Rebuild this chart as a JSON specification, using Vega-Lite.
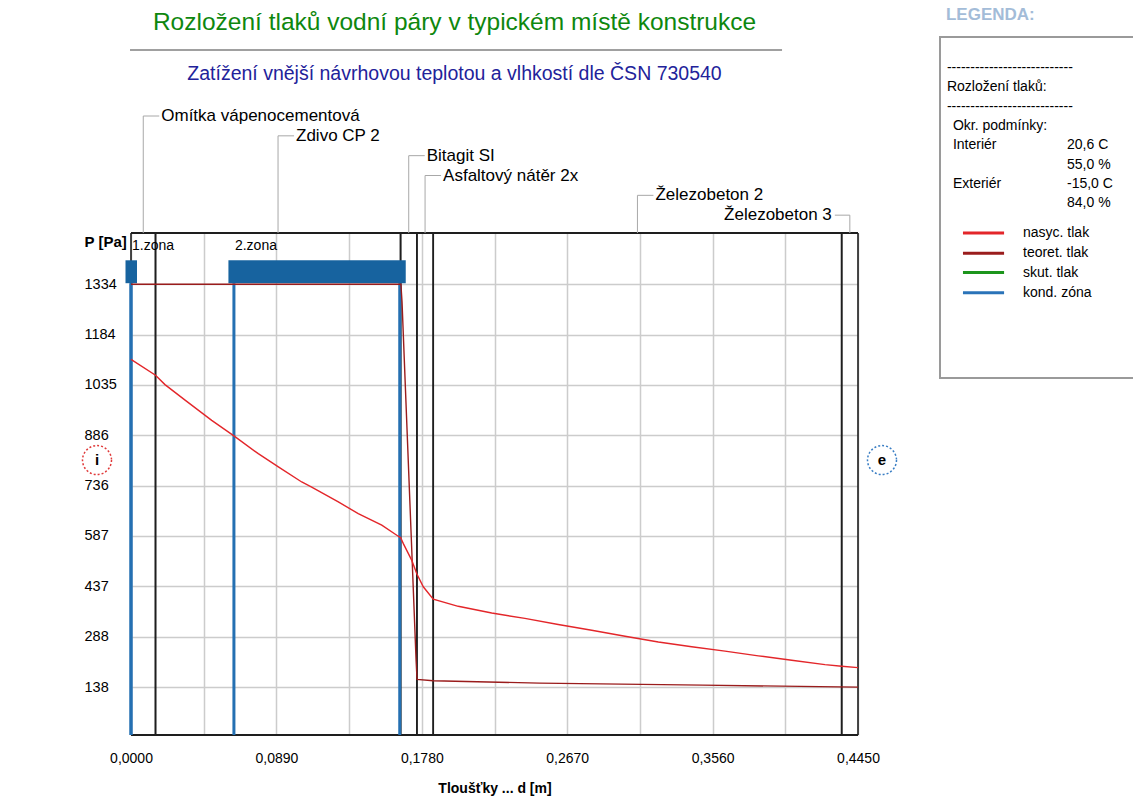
{
  "$schema": "https://vega.github.io/schema/vega-lite/v6.json",
  "width": 727,
  "height": 502,
  "autosize": {"type": "none"},
  "padding": {"left": 131, "top": 233, "right": 275, "bottom": 63},
  "background": "#ffffff",
  "config": {
    "font": "Liberation Sans",
    "view": {"stroke": null},
    "axis": {"labelFont": "Liberation Sans", "titleFont": "Liberation Sans"}
  },
  "title": {
    "text": "Rozložení tlaků vodní páry v typickém místě konstrukce",
    "subtitle": "Zatížení vnější návrhovou teplotou a vlhkostí dle ČSN 730540",
    "anchor": "middle",
    "frame": "group",
    "dx": -40,
    "offset": -79,
    "color": "#0e870e",
    "fontSize": 24.5,
    "fontWeight": "normal",
    "subtitleColor": "#22229a",
    "subtitleFontSize": 19.5,
    "subtitlePadding": 30
  },
  "datasets": {
    "layers": [
      {"name": "Omítka vápenocementová", "from": 0, "to": 0.015, "lvl": 0, "side": "right"},
      {"name": "Zdivo CP 2", "from": 0.015, "to": 0.165, "lvl": 1, "side": "right"},
      {"name": "Bitagit SI", "from": 0.165, "to": 0.175, "lvl": 2, "side": "right"},
      {"name": "Asfaltový nátěr 2x", "from": 0.175, "to": 0.185, "lvl": 3, "side": "right"},
      {"name": "Železobeton 2", "from": 0.185, "to": 0.435, "lvl": 4, "side": "right"},
      {"name": "Železobeton 3", "from": 0.435, "to": 0.445, "lvl": 5, "side": "left"}
    ],
    "zones": [
      {"zone": "1.zona", "from": 0, "to": 0},
      {"zone": "2.zona", "from": 0.063, "to": 0.1645}
    ],
    "pressure": [
      {"series": "teoret. tlak", "d": 0, "p": 1334},
      {"series": "teoret. tlak", "d": 0.1652, "p": 1334},
      {"series": "teoret. tlak", "d": 0.1659, "p": 1281},
      {"series": "teoret. tlak", "d": 0.1745, "p": 218},
      {"series": "teoret. tlak", "d": 0.1751, "p": 161},
      {"series": "teoret. tlak", "d": 0.185, "p": 157},
      {"series": "teoret. tlak", "d": 0.25, "p": 150},
      {"series": "teoret. tlak", "d": 0.35, "p": 144},
      {"series": "teoret. tlak", "d": 0.445, "p": 138},
      {"series": "nasyc. tlak", "d": 0, "p": 1111},
      {"series": "nasyc. tlak", "d": 0.015, "p": 1064},
      {"series": "nasyc. tlak", "d": 0.0208, "p": 1036},
      {"series": "nasyc. tlak", "d": 0.0331, "p": 990},
      {"series": "nasyc. tlak", "d": 0.0494, "p": 930},
      {"series": "nasyc. tlak", "d": 0.063, "p": 884},
      {"series": "nasyc. tlak", "d": 0.0779, "p": 831},
      {"series": "nasyc. tlak", "d": 0.0902, "p": 792},
      {"series": "nasyc. tlak", "d": 0.1045, "p": 747},
      {"series": "nasyc. tlak", "d": 0.1106, "p": 732},
      {"series": "nasyc. tlak", "d": 0.1269, "p": 688},
      {"series": "nasyc. tlak", "d": 0.1391, "p": 653},
      {"series": "nasyc. tlak", "d": 0.1535, "p": 619},
      {"series": "nasyc. tlak", "d": 0.1636, "p": 586},
      {"series": "nasyc. tlak", "d": 0.165, "p": 582},
      {"series": "nasyc. tlak", "d": 0.1667, "p": 564},
      {"series": "nasyc. tlak", "d": 0.1718, "p": 515},
      {"series": "nasyc. tlak", "d": 0.175, "p": 474},
      {"series": "nasyc. tlak", "d": 0.1789, "p": 436},
      {"series": "nasyc. tlak", "d": 0.185, "p": 399},
      {"series": "nasyc. tlak", "d": 0.2003, "p": 378},
      {"series": "nasyc. tlak", "d": 0.2208, "p": 358},
      {"series": "nasyc. tlak", "d": 0.2411, "p": 342},
      {"series": "nasyc. tlak", "d": 0.2615, "p": 324},
      {"series": "nasyc. tlak", "d": 0.282, "p": 307},
      {"series": "nasyc. tlak", "d": 0.3024, "p": 289},
      {"series": "nasyc. tlak", "d": 0.3228, "p": 272},
      {"series": "nasyc. tlak", "d": 0.3432, "p": 258},
      {"series": "nasyc. tlak", "d": 0.3636, "p": 245},
      {"series": "nasyc. tlak", "d": 0.384, "p": 231},
      {"series": "nasyc. tlak", "d": 0.4044, "p": 218},
      {"series": "nasyc. tlak", "d": 0.4248, "p": 205},
      {"series": "nasyc. tlak", "d": 0.435, "p": 200},
      {"series": "nasyc. tlak", "d": 0.445, "p": 196}
    ],
    "legendText": [
      {"row": 0, "col": "hdr", "text": "---------------------------"},
      {"row": 1, "col": "hdr", "text": "Rozložení tlaků:"},
      {"row": 2, "col": "hdr", "text": "---------------------------"},
      {"row": 3, "col": "lbl", "text": "Okr. podmínky:"},
      {"row": 4, "col": "lbl", "text": "Interiér"},
      {"row": 4, "col": "val", "text": "20,6 C"},
      {"row": 5, "col": "val", "text": "55,0 %"},
      {"row": 6, "col": "lbl", "text": "Exteriér"},
      {"row": 6, "col": "val", "text": "-15,0 C"},
      {"row": 7, "col": "val", "text": "84,0 %"}
    ],
    "legendSeries": [
      {"series": "nasyc. tlak", "row": 8.55},
      {"series": "teoret. tlak", "row": 9.6},
      {"series": "skut. tlak", "row": 10.6},
      {"series": "kond. zóna", "row": 11.65}
    ]
  },
  "layer": [
    {
      "layer": [
        {
          "data": {"name": "layers"},
          "transform": [{"fold": ["from", "to"], "as": ["edge", "d"]}],
          "mark": {"type": "rule", "color": "#1e1e1e", "strokeWidth": 1.6},
          "encoding": {
            "x": {
              "field": "d",
              "type": "quantitative",
              "scale": {"domain": [0, 0.445], "nice": false, "zero": false},
              "axis": {
                "values": [0, 0.0445, 0.089, 0.1335, 0.178, 0.2225, 0.267, 0.3115, 0.356, 0.4005, 0.445],
                "labelExpr": "round(datum.value / 0.0445) % 2 == 0 ? replace(format(datum.value, '.4f'), '.', ',') : ''",
                "grid": true,
                "gridColor": "#cccccc",
                "gridWidth": 1.5,
                "ticks": false,
                "domain": false,
                "labelFlush": false,
                "labelOverlap": false,
                "labelFontSize": 14,
                "labelColor": "#000000",
                "labelPadding": 16,
                "title": "Tloušťky ... d [m]",
                "titleFontSize": 14,
                "titleFontWeight": "bold",
                "titleColor": "#000000",
                "titlePadding": 16
              }
            }
          }
        },
        {
          "data": {"values": [{}]},
          "mark": {"type": "rule", "color": "#1e1e1e", "strokeWidth": 2},
          "encoding": {
            "y": {"datum": 1486},
            "x": {"datum": 0},
            "x2": {"datum": 0.445}
          }
        },
        {
          "data": {"values": [{}]},
          "mark": {"type": "rule", "color": "#1e1e1e", "strokeWidth": 2},
          "encoding": {
            "y": {"datum": -4},
            "x": {"datum": 0},
            "x2": {"datum": 0.445}
          }
        },
        {
          "data": {"name": "zones"},
          "transform": [{"fold": ["from", "to"], "as": ["edge", "d"]}],
          "mark": {"type": "rule", "color": "#2470b2", "strokeWidth": 3},
          "encoding": {
            "x": {"field": "d", "type": "quantitative"},
            "y": {"datum": 1337},
            "y2": {"datum": -4}
          }
        },
        {
          "data": {"name": "zones"},
          "mark": {"type": "rect", "color": "#17639f", "xOffset": -5.5, "x2Offset": 6},
          "encoding": {
            "x": {"field": "from", "type": "quantitative"},
            "x2": {"field": "to"},
            "y": {"datum": 1405},
            "y2": {"datum": 1337}
          }
        },
        {
          "data": {"name": "zones"},
          "mark": {"type": "text", "align": "left", "baseline": "middle", "dx": 1, "fontSize": 14, "color": "#000000"},
          "encoding": {
            "x": {"field": "from", "type": "quantitative"},
            "y": {"datum": 1447},
            "text": {"field": "zone"}
          }
        },
        {
          "data": {"name": "pressure"},
          "mark": {"type": "line", "strokeWidth": 1.4},
          "encoding": {
            "x": {"field": "d", "type": "quantitative"},
            "y": {
              "field": "p",
              "type": "quantitative",
              "scale": {"domain": [-4, 1486], "nice": false, "zero": false},
              "axis": {
                "values": [138, 288, 437, 587, 736, 886, 1035, 1184, 1334],
                "format": "d",
                "grid": true,
                "gridColor": "#cccccc",
                "gridWidth": 1.5,
                "ticks": false,
                "domain": false,
                "labelAlign": "left",
                "labelPadding": 47,
                "labelFontSize": 14.5,
                "labelColor": "#000000",
                "title": "P [Pa]",
                "titleAngle": 0,
                "titleAlign": "left",
                "titleBaseline": "middle",
                "titleX": -47,
                "titleY": 8,
                "titleFontSize": 15,
                "titleFontWeight": "bold",
                "titleColor": "#000000"
              }
            },
            "color": {
              "field": "series",
              "type": "nominal",
              "scale": {
                "domain": ["nasyc. tlak", "teoret. tlak", "skut. tlak", "kond. zóna"],
                "range": ["#e3262a", "#9a1c1c", "#1c951c", "#2a73b8"]
              },
              "legend": null
            },
            "order": {"field": "d", "type": "quantitative"}
          }
        },
        {
          "data": {"values": [{"t": "i"}]},
          "layer": [
            {
              "mark": {"type": "point", "shape": "circle", "size": 841, "filled": false, "opacity": 1, "color": "#e03a3a", "strokeWidth": 1.5, "strokeDash": [2, 2], "xOffset": -34},
              "encoding": {"x": {"datum": 0}, "y": {"datum": 812}}
            },
            {
              "mark": {"type": "text", "fontSize": 15, "fontWeight": "bold", "color": "#000000", "baseline": "middle", "xOffset": -34},
              "encoding": {"x": {"datum": 0}, "y": {"datum": 812}, "text": {"field": "t"}}
            }
          ]
        },
        {
          "data": {"values": [{"t": "e"}]},
          "layer": [
            {
              "mark": {"type": "point", "shape": "circle", "size": 841, "filled": false, "opacity": 1, "color": "#3a7ec4", "strokeWidth": 1.5, "strokeDash": [2, 2], "xOffset": 24},
              "encoding": {"x": {"datum": 0.445}, "y": {"datum": 812}}
            },
            {
              "mark": {"type": "text", "fontSize": 15, "fontWeight": "bold", "color": "#000000", "baseline": "middle", "xOffset": 24},
              "encoding": {"x": {"datum": 0.445}, "y": {"datum": 812}, "text": {"field": "t"}}
            }
          ]
        }
      ]
    },
    {
      "data": {"name": "layers"},
      "transform": [{"calculate": "(datum.from + datum.to) / 2", "as": "mid"}],
      "layer": [
        {
          "mark": {"type": "rule", "color": "#a8a8a8", "strokeWidth": 1},
          "encoding": {
            "x": {"field": "mid", "type": "quantitative", "scale": {"domain": [0, 0.445], "nice": false, "zero": false}, "axis": null},
            "y": {"field": "lvl", "type": "quantitative", "scale": {"domain": [0, 6], "range": [-117, 2], "nice": false, "zero": false}, "axis": null},
            "y2": {"datum": 5.9}
          }
        },
        {
          "transform": [{"filter": "datum.side == 'right'"}],
          "mark": {"type": "rule", "color": "#a8a8a8", "strokeWidth": 1, "x2Offset": 16},
          "encoding": {
            "x": {"field": "mid", "type": "quantitative"},
            "x2": {"field": "mid"},
            "y": {"field": "lvl", "type": "quantitative"}
          }
        },
        {
          "transform": [{"filter": "datum.side == 'left'"}],
          "mark": {"type": "rule", "color": "#a8a8a8", "strokeWidth": 1, "x2Offset": -15},
          "encoding": {
            "x": {"field": "mid", "type": "quantitative"},
            "x2": {"field": "mid"},
            "y": {"field": "lvl", "type": "quantitative"}
          }
        },
        {
          "transform": [{"filter": "datum.side == 'right'"}],
          "mark": {"type": "text", "align": "left", "baseline": "middle", "dx": 18, "fontSize": 17, "color": "#000000"},
          "encoding": {
            "x": {"field": "mid", "type": "quantitative"},
            "y": {"field": "lvl", "type": "quantitative"},
            "text": {"field": "name"}
          }
        },
        {
          "transform": [{"filter": "datum.side == 'left'"}],
          "mark": {"type": "text", "align": "right", "baseline": "middle", "dx": -18, "fontSize": 17, "color": "#000000"},
          "encoding": {
            "x": {"field": "mid", "type": "quantitative"},
            "y": {"field": "lvl", "type": "quantitative"},
            "text": {"field": "name"}
          }
        },
        {
          "data": {"values": [{}]},
          "mark": {"type": "rule", "color": "#a0a0a0", "strokeWidth": 2},
          "encoding": {
            "x": {"datum": -0.0006},
            "x2": {"datum": 0.3985},
            "y": {"datum": -3.33}
          }
        }
      ]
    },
    {
      "layer": [
        {
          "data": {"values": [{}]},
          "mark": {"type": "rect", "fill": "#ffffff", "stroke": "#9a9a9a", "strokeWidth": 2},
          "encoding": {
            "x": {"datum": 0, "type": "quantitative", "scale": {"domain": [0, 100], "range": [809, 1002], "nice": false, "zero": false}, "axis": null},
            "x2": {"datum": 110},
            "y": {"datum": -1.6, "type": "quantitative", "scale": {"domain": [0, 10], "range": [-165, 28], "nice": false, "zero": false}, "axis": null},
            "y2": {"datum": 16.06}
          }
        },
        {
          "data": {"values": [{"t": "LEGENDA:"}]},
          "mark": {"type": "text", "align": "left", "baseline": "middle", "fontSize": 17, "fontWeight": "bold", "color": "#a3bcd8"},
          "encoding": {
            "x": {"datum": 3.1},
            "y": {"datum": -2.75},
            "text": {"field": "t"}
          }
        },
        {
          "data": {"name": "legendText"},
          "transform": [{"filter": "datum.col == 'hdr'"}],
          "mark": {"type": "text", "align": "left", "baseline": "middle", "fontSize": 14, "color": "#000000"},
          "encoding": {
            "x": {"datum": 3.6},
            "y": {"field": "row", "type": "quantitative"},
            "text": {"field": "text"}
          }
        },
        {
          "data": {"name": "legendText"},
          "transform": [{"filter": "datum.col == 'lbl'"}],
          "mark": {"type": "text", "align": "left", "baseline": "middle", "fontSize": 14, "color": "#000000"},
          "encoding": {
            "x": {"datum": 6.7},
            "y": {"field": "row", "type": "quantitative"},
            "text": {"field": "text"}
          }
        },
        {
          "data": {"name": "legendText"},
          "transform": [{"filter": "datum.col == 'val'"}],
          "mark": {"type": "text", "align": "left", "baseline": "middle", "fontSize": 14, "color": "#000000"},
          "encoding": {
            "x": {"datum": 65.8},
            "y": {"field": "row", "type": "quantitative"},
            "text": {"field": "text"}
          }
        },
        {
          "data": {"name": "legendSeries"},
          "mark": {"type": "rule", "strokeWidth": 3},
          "encoding": {
            "x": {"datum": 11.9},
            "x2": {"datum": 33.2},
            "y": {"field": "row", "type": "quantitative"},
            "color": {"field": "series", "type": "nominal", "legend": null}
          }
        },
        {
          "data": {"name": "legendSeries"},
          "mark": {"type": "text", "align": "left", "baseline": "middle", "fontSize": 14, "color": "#000000"},
          "encoding": {
            "x": {"datum": 43},
            "y": {"field": "row", "type": "quantitative"},
            "text": {"field": "series"}
          }
        }
      ]
    }
  ],
  "resolve": {"scale": {"x": "independent", "y": "independent"}}
}
